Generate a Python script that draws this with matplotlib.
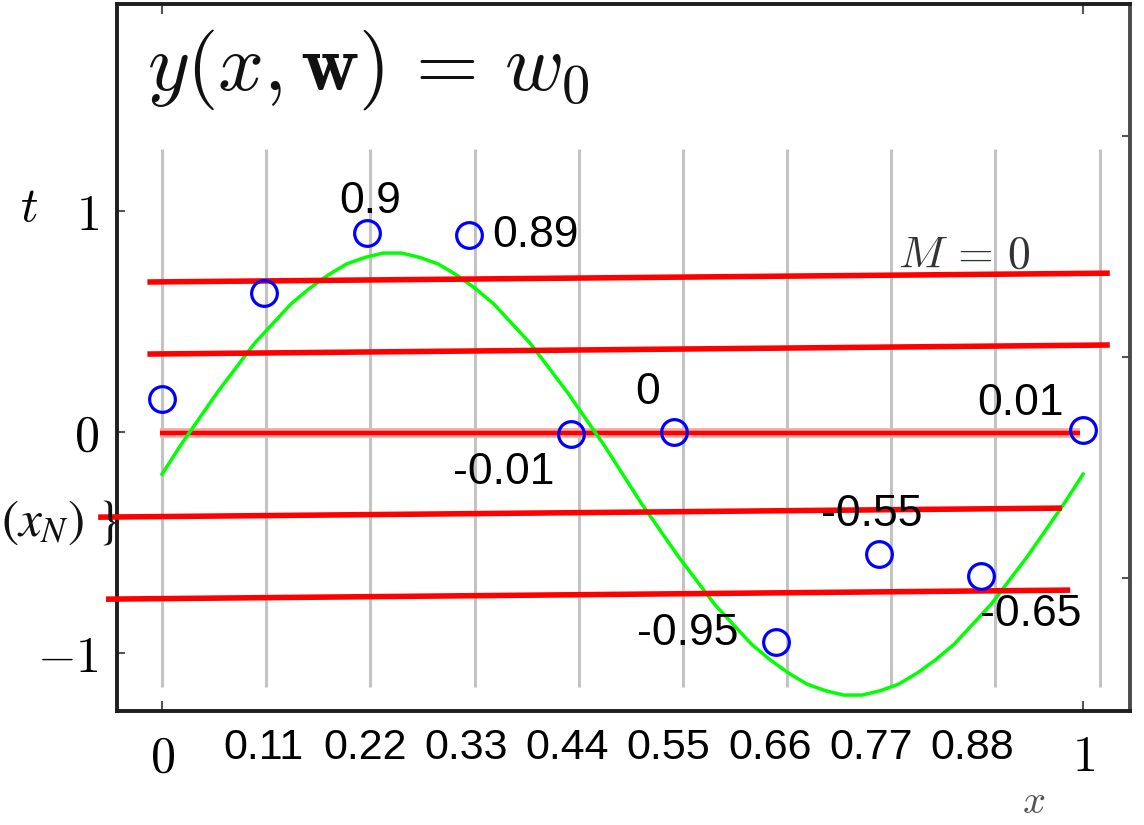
import numpy as np
import matplotlib
matplotlib.use("Agg")
import matplotlib.pyplot as plt

plt.rcParams["mathtext.fontset"] = "cm"
plt.rcParams["font.family"] = ["DejaVu Sans"]

# observed samples (x, t); the value labels are written next to the samples
sample_x = [0.0, 0.111, 0.222, 0.333, 0.444, 0.556, 0.667, 0.778, 0.889, 1.0]
sample_t = [0.15, 0.63, 0.9, 0.89, -0.01, 0.0, -0.95, -0.55, -0.65, 0.01]
sample_labelled = [False, False, True, True, True, True, True, True, True, True]

# underlying green curve, read at regular x steps of 0.02
curve_x = [0.00, 0.02, 0.04, 0.06, 0.08, 0.10, 0.12, 0.14, 0.16, 0.18,
           0.20, 0.22, 0.24, 0.26, 0.28, 0.30, 0.32, 0.34, 0.36, 0.38,
           0.40, 0.42, 0.44, 0.46, 0.48, 0.50, 0.52, 0.54, 0.56, 0.58,
           0.60, 0.62, 0.64, 0.66, 0.68, 0.70, 0.72, 0.74, 0.76, 0.78,
           0.80, 0.82, 0.84, 0.86, 0.88, 0.90, 0.92, 0.94, 0.96, 0.98, 1.00]
curve_t = [-0.19, -0.06, 0.06, 0.18, 0.29, 0.40, 0.49, 0.58, 0.65, 0.71,
           0.76, 0.79, 0.81, 0.81, 0.79, 0.76, 0.71, 0.65, 0.58, 0.49,
           0.40, 0.29, 0.18, 0.06, -0.06, -0.19, -0.32, -0.44, -0.56, -0.67,
           -0.78, -0.87, -0.96, -1.03, -1.09, -1.14, -1.17, -1.19, -1.19, -1.17,
           -1.14, -1.09, -1.03, -0.96, -0.87, -0.78, -0.67, -0.56, -0.44, -0.32,
           -0.19]

# constant (M = 0) fits drawn as red segments: start/end x and t
fit_x_start = [-0.016, -0.016, -0.002, -0.0695, -0.061]
fit_x_end = [1.029, 1.029, 0.997, 0.977, 0.986]
fit_t_start = [0.679, 0.353, -0.006, -0.385, -0.756]
fit_t_end = [0.719, 0.394, -0.006, -0.344, -0.715]

# axis tick values and labels
x_major_ticks = [0, 1]
x_major_labels = ["$0$", "$1$"]
x_minor_ticks = [0.11, 0.22, 0.33, 0.44, 0.55, 0.66, 0.77, 0.88]
x_minor_labels = ["0.11", "0.22", "0.33", "0.44", "0.55", "0.66", "0.77", "0.88"]
y_ticks = [-1, 0, 1]
y_tick_labels = ["$-1$", "$0$", "$1$"]
y_right_ticks = [1.34, 0.34, -0.66]

# label placement relative to each labelled sample (pixels, baseline of text)
label_offsets = [None, None, (4, 20), (67, -12), (-67, -50), (-27, 28),
                 (-89, -3), (-7, 28), (50, -50), (-63, 15)]
halo_fit = [False, False, True, False, False]
GRID_STEP = 0.1131

fig = plt.figure(figsize=(11.44, 8.25), dpi=100)
ax = fig.add_axes([0.1023, 0.1382, 0.8855, 0.85697])
ax.set_xlim(-0.049, 1.051)
ax.set_ylim(-1.262, 1.937)

# vertical guide lines
grid_x = np.arange(10) * GRID_STEP
ax.vlines(grid_x, -1.154, 1.281, color="#c3c3c3", lw=2.2, zorder=1)

# red constant fits
for x0, x1, t0, t1, halo in zip(fit_x_start, fit_x_end, fit_t_start, fit_t_end, halo_fit):
    if halo:
        ax.plot([x0, x1], [t0, t1], color="#ffa8a8", lw=7.0,
                solid_capstyle="butt", zorder=3)
        ax.plot([x0, x1], [t0, t1], color="#ff0000", lw=3.2,
                solid_capstyle="butt", zorder=3.1)
    else:
        ax.plot([x0, x1], [t0, t1], color="#ff0000", lw=4.0,
                solid_capstyle="butt", clip_on=False, zorder=6)

# green curve
ax.plot(curve_x, curve_t, color="#00ff00", lw=2.5, zorder=4,
        solid_joinstyle="round")

# sample circles
ax.plot(sample_x, sample_t, "o", ms=18.5, mfc="none", mec="#0000ff",
        mew=2.3, zorder=7)

for x, t, lab, off in zip(sample_x, sample_t, sample_labelled, label_offsets):
    if lab:
        ax.annotate(f"{t:g}", (x, t), xytext=off, textcoords="offset pixels",
                    ha="center", va="baseline", fontsize=32,
                    family="Liberation Sans", color="black", zorder=8)

# ticks
ax.set_xticks(x_major_ticks, x_major_labels)
ax.set_xticks(x_minor_ticks, x_minor_labels, minor=True)
ax.set_yticks(y_ticks, y_tick_labels)
ax.tick_params(axis="x", which="major", direction="in", length=7, width=1.5,
               color="#555555", labelsize=36, pad=16, top=True)
ax.tick_params(axis="x", which="minor", length=0, labelsize=31, pad=12)
ax.tick_params(axis="y", which="major", direction="in", length=6, width=1.5,
               color="#555555", labelsize=36, pad=13)
for lbl in ax.get_xticklabels(minor=True):
    lbl.set_fontfamily("Liberation Sans")

sec = ax.secondary_yaxis("right")
sec.set_yticks(y_right_ticks)
sec.tick_params(direction="in", length=6, width=1.5, color="#555555",
                labelright=False)
sec.spines["right"].set_color("#4a4a4a")
sec.spines["right"].set_linewidth(2.8)
ax.spines["right"].set_visible(False)
for side in ("left", "top", "bottom"):
    ax.spines[side].set_color("#1e1e1e")
    ax.spines[side].set_linewidth(2.8)

# axis labels
ax.set_ylabel("$t$", rotation=0, fontsize=35)
ax.yaxis.set_label_coords(-0.0869, 0.7129)
ax.yaxis.label.set_va("center")
ax.yaxis.label.set_ha("center")
ax.set_xlabel("$x$", fontsize=29, color="#555555")
ax.xaxis.set_label_coords(0.905, -0.129)
ax.xaxis.label.set_va("center")

# equation and model order
ax.text(0.0296, 0.8784, r"$y(x,\mathbf{w})\,=\,w_0$", transform=ax.transAxes,
        fontsize=58, ha="left", va="baseline", color="#111111")
ax.text(0.771, 0.6266, r"$M\,=\,0$", transform=ax.transAxes, fontsize=33,
        ha="left", va="baseline", color="#333333")

fig.text(1 / 1144, (825 - 522) / 825, r"$(x_N)\ \}$", ha="left",
         va="center", fontsize=37, math_fontfamily="stix", color="#111111")

fig.savefig("out.png", dpi=100)
